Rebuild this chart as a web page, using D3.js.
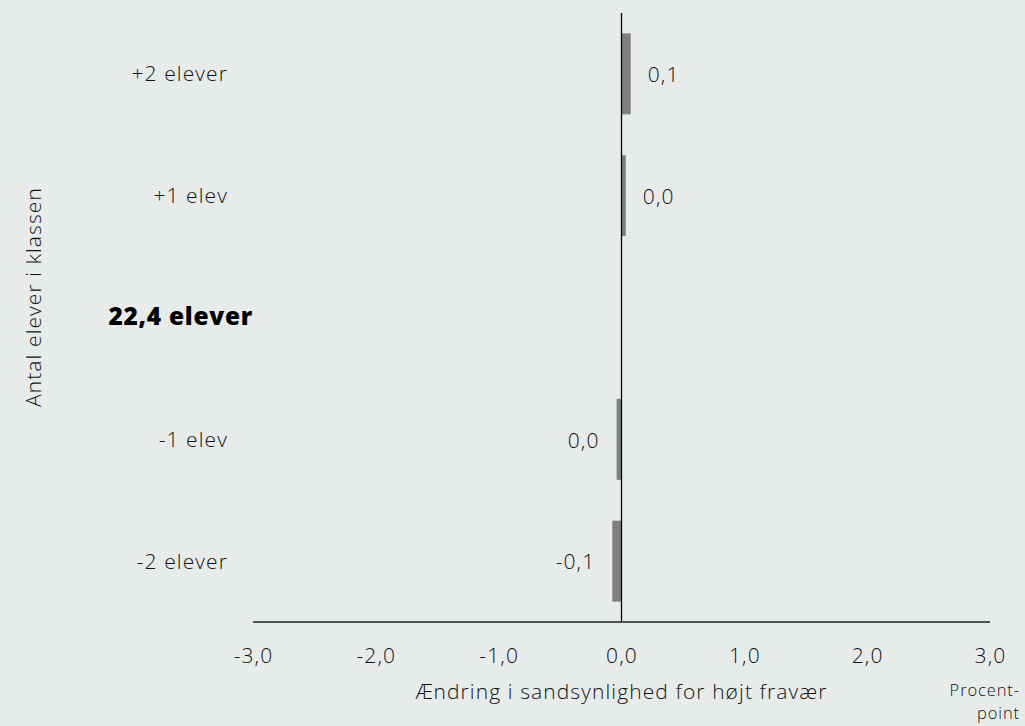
<!DOCTYPE html>
<html><head><meta charset="utf-8">
<script src="https://cdn.jsdelivr.net/npm/d3@7"></script>
<style>
html,body{margin:0;padding:0;background:#e7eceb;}
svg{display:block;font-family:"Open Sans", sans-serif;font-weight:300;letter-spacing:1.1px;}
</style></head>
<body>
<svg id="c" width="1025" height="726"></svg>
<script>
const categories = ["+2 elever", "+1 elev", "22,4 elever", "-1 elev", "-2 elever"];
const values = [0.075, 0.035, null, -0.04, -0.075];
const valueLabels = ["0,1", "0,0", "", "0,0", "-0,1"];
const boldCategory = "22,4 elever";
const xTicks = [-3, -2, -1, 0, 1, 2, 3];
const xTickLabels = ["-3,0", "-2,0", "-1,0", "0,0", "1,0", "2,0", "3,0"];

const FONT = "'Open Sans', sans-serif";
const FS = 21;
const TXT = "#111";
const svg = d3.select("#c");
const x = d3.scaleLinear().domain([-3, 3]).range([253, 990]);
const y = d3.scaleBand().domain(categories).range([13, 622]).paddingInner(0.335).paddingOuter(0.167);
const data = categories.map((c, i) => ({c, v: values[i], l: valueLabels[i]}));

svg.append("g").selectAll("rect").data(data.filter(d => d.v !== null)).join("rect")
  .attr("x", d => x(Math.min(0, d.v)))
  .attr("width", d => Math.abs(x(d.v) - x(0)))
  .attr("y", d => y(d.c))
  .attr("height", y.bandwidth())
  .attr("fill", "#808080");

svg.append("g").selectAll("text").data(data.filter(d => d.v !== null)).join("text")
  .attr("x", d => d.v >= 0 ? x(d.v) + 17 : x(d.v) - 17)
  .attr("y", d => y(d.c) + y.bandwidth() / 2 + 1)
  .attr("dy", "0.35em")
  .attr("text-anchor", d => d.v >= 0 ? "start" : "end")
  .attr("font-size", FS).attr("fill", TXT)
  .text(d => d.l);

svg.append("line").attr("x1", x(-3)).attr("x2", x(3)).attr("y1", 622).attr("y2", 622)
  .attr("stroke", "#222").attr("stroke-width", 1.3);
svg.append("line").attr("x1", x(0)).attr("x2", x(0)).attr("y1", 13).attr("y2", 622)
  .attr("stroke", "#000").attr("stroke-width", 1.3);

const xAxis = d3.axisBottom(x).tickValues(xTicks).tickSize(0).tickPadding(0)
  .tickFormat((d, i) => xTickLabels[i]);
const gx = svg.append("g").attr("transform", "translate(0,648)").call(xAxis);
gx.select(".domain").remove();
gx.selectAll("text").attr("font-size", FS).attr("fill", TXT).attr("font-family", FONT).attr("dy", "0.71em");

const yAxis = d3.axisLeft(y).tickSize(0).tickPadding(0);
const gy = svg.append("g").attr("transform", "translate(228,0)").call(yAxis);
gy.select(".domain").remove();
gy.selectAll("text")
  .attr("font-family", FONT)
  .attr("font-weight", d => d === boldCategory ? 800 : 300)
  .attr("font-size", d => d === boldCategory ? 24.5 : FS)
  .attr("letter-spacing", d => d === boldCategory ? 0.7 : 1.1)
  .attr("x", d => d === boldCategory ? 25 : 0)
  .attr("dy", d => d === boldCategory ? "0.32em" : "0.35em")
  .attr("fill", d => d === boldCategory ? "#000" : TXT);

svg.append("text").attr("transform", "translate(41,297) rotate(-90)")
  .attr("text-anchor", "middle").attr("font-size", FS).attr("fill", TXT)
  .text("Antal elever i klassen");
svg.append("text").attr("x", x(0)).attr("y", 699).attr("text-anchor", "middle")
  .attr("font-size", FS).attr("fill", TXT).text("Ændring i sandsynlighed for højt fravær");
svg.append("text").attr("x", 1020).attr("y", 696).attr("text-anchor", "end")
  .attr("font-size", 16.5).attr("letter-spacing", 0.9).attr("fill", TXT).text("Procent-");
svg.append("text").attr("x", 1020).attr("y", 719).attr("text-anchor", "end")
  .attr("font-size", 16.5).attr("letter-spacing", 0.9).attr("fill", TXT).text("point");
</script>
</body></html>
